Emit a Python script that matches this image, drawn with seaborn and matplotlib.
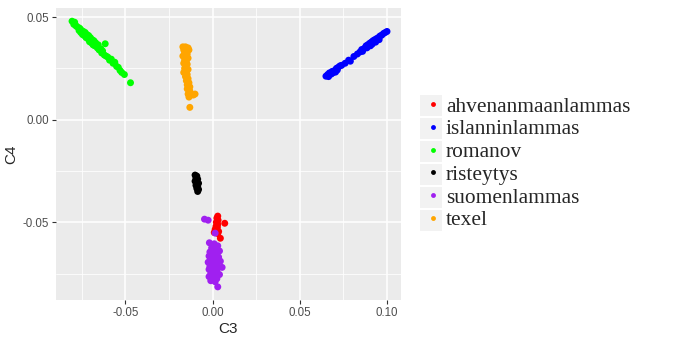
import matplotlib
matplotlib.use("Agg")
import numpy as np
import pandas as pd
import matplotlib.pyplot as plt
import seaborn as sns
from matplotlib.lines import Line2D
from matplotlib.patches import Rectangle

# points, (C3, C4) per breed
ahvenanmaanlammas = [(0.0030, -0.0470), (0.0025, -0.0480), (0.0032, -0.0490), (0.0022, -0.0500),
                     (0.0030, -0.0510), (0.0020, -0.0520), (0.0028, -0.0525), (0.0015, -0.0535),
                     (0.0025, -0.0540), (0.0035, -0.0545), (0.0010, -0.0550), (0.0030, -0.0555),
                     (0.0070, -0.0505), (0.0045, -0.0578)]

islanninlammas = [(0.0650, 0.0212), (0.0660, 0.0220), (0.0665, 0.0210), (0.0670, 0.0228),
                  (0.0680, 0.0222), (0.0685, 0.0235), (0.0690, 0.0228), (0.0700, 0.0240),
                  (0.0705, 0.0232), (0.0710, 0.0250), (0.0715, 0.0242), (0.0720, 0.0255),
                  (0.0730, 0.0262), (0.0740, 0.0265), (0.0760, 0.0275), (0.0780, 0.0290),
                  (0.0790, 0.0285), (0.0810, 0.0308), (0.0830, 0.0320), (0.0845, 0.0330),
                  (0.0855, 0.0342), (0.0860, 0.0333), (0.0870, 0.0348), (0.0880, 0.0360),
                  (0.0885, 0.0350), (0.0890, 0.0365), (0.0900, 0.0372), (0.0905, 0.0360),
                  (0.0910, 0.0378), (0.0915, 0.0368), (0.0920, 0.0385), (0.0930, 0.0390),
                  (0.0935, 0.0378), (0.0940, 0.0395), (0.0950, 0.0400), (0.0955, 0.0390),
                  (0.0960, 0.0408), (0.0970, 0.0412), (0.0980, 0.0420), (0.0990, 0.0425),
                  (0.1000, 0.0430)]

romanov = [(-0.0805, 0.0480), (-0.0795, 0.0465), (-0.0790, 0.0475), (-0.0785, 0.0460),
           (-0.0780, 0.0455), (-0.0770, 0.0450), (-0.0765, 0.0435), (-0.0760, 0.0445),
           (-0.0755, 0.0425), (-0.0750, 0.0435), (-0.0745, 0.0415), (-0.0740, 0.0430),
           (-0.0735, 0.0410), (-0.0730, 0.0425), (-0.0725, 0.0400), (-0.0720, 0.0415),
           (-0.0715, 0.0395), (-0.0710, 0.0410), (-0.0705, 0.0380), (-0.0700, 0.0400),
           (-0.0695, 0.0375), (-0.0690, 0.0390), (-0.0685, 0.0365), (-0.0680, 0.0385),
           (-0.0675, 0.0360), (-0.0670, 0.0375), (-0.0660, 0.0350), (-0.0655, 0.0365),
           (-0.0650, 0.0340), (-0.0640, 0.0345), (-0.0635, 0.0325), (-0.0630, 0.0335),
           (-0.0620, 0.0315), (-0.0615, 0.0370), (-0.0610, 0.0310), (-0.0600, 0.0305),
           (-0.0590, 0.0290), (-0.0580, 0.0295), (-0.0570, 0.0275), (-0.0560, 0.0280),
           (-0.0550, 0.0260), (-0.0540, 0.0255), (-0.0530, 0.0240), (-0.0520, 0.0230),
           (-0.0505, 0.0220), (-0.0470, 0.0180)]

risteytys = [(-0.0100, -0.0270), (-0.0090, -0.0275), (-0.0095, -0.0285), (-0.0085, -0.0290),
             (-0.0100, -0.0300), (-0.0090, -0.0305), (-0.0080, -0.0310), (-0.0095, -0.0320),
             (-0.0085, -0.0325), (-0.0090, -0.0335), (-0.0080, -0.0340), (-0.0085, -0.0350)]

suomenlammas = [(-0.0046, -0.0485), (-0.0025, -0.0490), (0.0015, -0.0553), (-0.0018, -0.0600),
                (0.0010, -0.0605), (0.0030, -0.0615), (-0.0005, -0.0625), (0.0020, -0.0630),
                (0.0040, -0.0640), (-0.0015, -0.0645), (0.0005, -0.0650), (0.0025, -0.0655),
                (-0.0020, -0.0665), (0.0010, -0.0665), (0.0035, -0.0670), (-0.0010, -0.0680),
                (0.0015, -0.0685), (0.0045, -0.0690), (-0.0025, -0.0695), (0.0000, -0.0700),
                (0.0025, -0.0705), (-0.0015, -0.0715), (0.0010, -0.0720), (0.0035, -0.0720),
                (-0.0020, -0.0730), (0.0005, -0.0735), (0.0025, -0.0740), (-0.0010, -0.0750),
                (0.0015, -0.0755), (0.0040, -0.0755), (-0.0020, -0.0765), (0.0000, -0.0770),
                (0.0025, -0.0775), (-0.0010, -0.0785), (0.0015, -0.0790), (0.0055, -0.0720),
                (0.0030, -0.0815)]

texel = [(-0.0170, 0.0355), (-0.0155, 0.0355), (-0.0140, 0.0350), (-0.0165, 0.0340),
         (-0.0150, 0.0335), (-0.0135, 0.0340), (-0.0160, 0.0325), (-0.0145, 0.0320),
         (-0.0170, 0.0310), (-0.0155, 0.0305), (-0.0140, 0.0300), (-0.0160, 0.0290),
         (-0.0150, 0.0285), (-0.0165, 0.0275), (-0.0145, 0.0270), (-0.0155, 0.0260),
         (-0.0160, 0.0250), (-0.0140, 0.0245), (-0.0150, 0.0235), (-0.0165, 0.0230),
         (-0.0145, 0.0220), (-0.0155, 0.0210), (-0.0140, 0.0200), (-0.0150, 0.0190),
         (-0.0135, 0.0180), (-0.0145, 0.0170), (-0.0130, 0.0160), (-0.0145, 0.0150),
         (-0.0130, 0.0140), (-0.0140, 0.0125), (-0.0125, 0.0120), (-0.0110, 0.0120),
         (-0.0100, 0.0125), (-0.0135, 0.0110), (-0.0130, 0.0060)]

groups = {"ahvenanmaanlammas": ahvenanmaanlammas, "islanninlammas": islanninlammas,
          "romanov": romanov, "risteytys": risteytys, "suomenlammas": suomenlammas,
          "texel": texel}
colors = {"ahvenanmaanlammas": "#FF0000", "islanninlammas": "#0000FF", "romanov": "#00FF00",
          "risteytys": "#000000", "suomenlammas": "#A020F0", "texel": "#FFA500"}

rows = []
for name, pts in groups.items():
    for x, y in pts:
        rows.append((x, y, name))
df = pd.DataFrame(rows, columns=["C3", "C4", "group"])

sns.set_theme(style="darkgrid")
plt.rcParams["font.family"] = ["Liberation Sans", "DejaVu Sans"]

fig = plt.figure(figsize=(6.73, 3.51), dpi=100)
ax = fig.add_axes([0.0832, 0.1453, 0.5126, 0.8317])
ax.set_facecolor("#EBEBEB")

sns.scatterplot(data=df, x="C3", y="C4", hue="group", palette=colors, s=25,
                linewidth=0, legend=False, ax=ax)

ax.set_xlim(-0.0897, 0.108)
ax.set_ylim(-0.0879, 0.0544)
ax.set_xticks([-0.05, 0.0, 0.05, 0.10])
ax.set_xticklabels(["-0.05", "0.00", "0.05", "0.10"])
ax.set_yticks([-0.05, 0.0, 0.05])
ax.set_yticklabels(["-0.05", "0.00", "0.05"])
ax.set_xticks([-0.075, -0.025, 0.025, 0.075], minor=True)
ax.set_yticks([-0.075, -0.025, 0.025], minor=True)
ax.grid(which="major", color="white", linewidth=1.1)
ax.grid(which="minor", color="white", linewidth=0.55)
ax.tick_params(which="major", length=3, width=0.8, color="#333333",
               labelcolor="#4D4D4D", labelsize=8.3, pad=2, bottom=True, left=True)
ax.tick_params(which="minor", length=0)
for sp in ax.spines.values():
    sp.set_visible(False)
ax.set_xlabel("C3", fontsize=11, labelpad=2)
ax.set_ylabel("C4", fontsize=11, labelpad=3)

# legend with grey key boxes
handles = [Line2D([], [], marker="o", linestyle="", markersize=3.5,
                  markerfacecolor=colors[n], markeredgewidth=0) for n in groups]
leg = fig.legend(handles, list(groups), loc="upper left", bbox_to_anchor=(0.6177, 0.755),
                 frameon=False, prop={"family": "Liberation Serif", "size": 15.4},
                 handlelength=0.6, handletextpad=0.31, labelspacing=0.13, borderpad=0)
row_h = 23 / 351
top = 1 - 94 / 351
for i in range(len(groups)):
    fig.patches.append(Rectangle((420 / 673, top - (i + 1) * row_h + 0.002), 22 / 673,
                                 row_h - 0.004, transform=fig.transFigure,
                                 facecolor="#F2F2F2", edgecolor="none", zorder=0))

fig.savefig("out.png", dpi=100)
